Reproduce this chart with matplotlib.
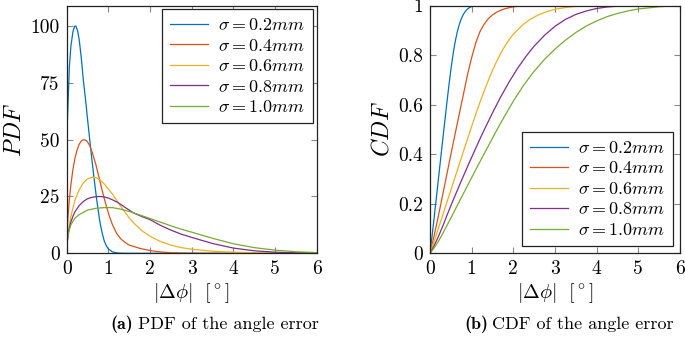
import matplotlib
matplotlib.use("Agg")
import matplotlib.pyplot as plt

plt.rcParams['font.family'] = ['cmr10']
plt.rcParams['mathtext.fontset'] = 'cm'
plt.rcParams['axes.formatter.use_mathtext'] = True

sigma_labels = [r'$\sigma = 0.2mm$', r'$\sigma = 0.4mm$', r'$\sigma = 0.6mm$',
                r'$\sigma = 0.8mm$', r'$\sigma = 1.0mm$']
colors = ['#0072BD', '#D95319', '#EDB120', '#7E2F8E', '#77AC30']

# ---------------- PDF data ----------------
pdf_x_02 = [0, 0.005, 0.016, 0.032, 0.064, 0.1, 0.15, 0.19, 0.22, 0.26, 0.3, 0.35, 0.4, 0.45,
            0.5, 0.55, 0.6, 0.65, 0.7, 0.75, 0.8, 0.85, 0.9, 0.95, 1.0, 1.1, 1.2, 1.3, 1.45, 6.0]
pdf_y_02 = [0, 40, 58, 66, 82, 91, 97.5, 99.8, 100, 98, 94, 86, 76, 68,
            59, 50.5, 42, 34, 26.5, 19.5, 13.5, 9, 5.5, 3.3, 1.9, 0.6, 0.2, 0.05, 0, 0]

pdf_x_04 = [0, 0.005, 0.015, 0.03, 0.06, 0.1, 0.15, 0.2, 0.25, 0.3, 0.36, 0.42, 0.48, 0.55,
            0.62, 0.7, 0.78, 0.86, 0.94, 1.02, 1.1, 1.2, 1.3, 1.4, 1.5, 1.75, 2.0, 2.25, 2.5,
            2.8, 3.2, 6.0]
pdf_y_04 = [0, 6, 11, 16, 23, 30, 37, 42, 45.5, 48, 49.6, 50, 49.5, 47.5,
            44, 39, 33, 27, 21.5, 16.5, 12.5, 8.7, 6.3, 4.8, 3.6, 2.2, 1.2, 0.6, 0.25,
            0.08, 0, 0]

pdf_x_06 = [0, 0.01, 0.03, 0.06, 0.1, 0.15, 0.2, 0.3, 0.4, 0.5, 0.6, 0.7, 0.8, 0.9, 1.0,
            1.1, 1.2, 1.3, 1.4, 1.5, 1.6, 1.8, 2.0, 2.25, 2.5, 2.75, 3.0, 3.5, 4.0, 4.5,
            5.0, 6.0]
pdf_y_06 = [0, 5, 8.5, 12, 16, 20, 23.5, 28, 31, 32.7, 33.4, 33.3, 32.3, 30.5, 28.3,
            26, 23.3, 20.6, 18, 15.6, 13.5, 10, 7.5, 5.2, 3.6, 2.5, 1.8, 0.9, 0.5, 0.25,
            0.12, 0]

pdf_x_08 = [0, 0.01, 0.03, 0.06, 0.1, 0.15, 0.2, 0.3, 0.4, 0.5, 0.6, 0.7, 0.8, 0.9, 1.0,
            1.1, 1.2, 1.3, 1.4, 1.5, 1.6, 1.8, 2.0, 2.25, 2.5, 2.75, 3.0, 3.5, 4.0, 4.5,
            5.0, 5.5, 6.0]
pdf_y_08 = [0, 4.5, 7.5, 11, 13.7, 16.3, 18.3, 21, 22.8, 24, 24.6, 24.9, 25, 24.8, 24.3,
            23.5, 22.6, 21.5, 20.2, 19, 17.8, 16.2, 14.8, 12.3, 10.2, 8.4, 7.0, 4.3, 2.3, 1.1,
            0.5, 0.2, 0.1]

pdf_x_10 = [0, 0.01, 0.02, 0.05, 0.1, 0.2, 0.3, 0.5, 0.7, 0.9, 1.1, 1.3, 1.5, 1.75, 2.0,
            2.25, 2.5, 2.75, 3.0, 3.5, 4.0, 4.5, 5.0, 5.5, 6.0]
pdf_y_10 = [0, 4, 6, 9.5, 12.5, 15.5, 17, 19, 19.8, 20.1, 20.1, 19.4, 18.4, 16.9, 15.3,
            13.7, 12.1, 10.6, 9.3, 6.6, 4.2, 2.5, 1.4, 0.7, 0.3]

# ---------------- CDF data ----------------
cdf_x_02 = [0, 0.05, 0.1, 0.15, 0.2, 0.25, 0.3, 0.35, 0.4, 0.45, 0.5, 0.55, 0.6, 0.65,
            0.7, 0.75, 0.8, 0.85, 0.9, 0.95, 1.0, 1.1, 1.2, 6.0]
cdf_y_02 = [0, 0.07, 0.145, 0.22, 0.297, 0.373, 0.45, 0.525, 0.6, 0.672, 0.74, 0.8, 0.85, 0.89,
            0.922, 0.946, 0.964, 0.977, 0.986, 0.992, 0.996, 0.999, 1.0, 1.0]

cdf_x_04 = [0, 0.1, 0.2, 0.3, 0.4, 0.5, 0.6, 0.7, 0.8, 0.9, 1.0, 1.1, 1.2, 1.3, 1.4,
            1.5, 1.6, 1.7, 1.8, 2.0, 2.2, 2.5, 6.0]
cdf_y_04 = [0, 0.072, 0.15, 0.232, 0.315, 0.398, 0.48, 0.56, 0.64, 0.72, 0.79, 0.85, 0.895,
            0.925, 0.947, 0.962, 0.973, 0.981, 0.987, 0.995, 0.998, 1.0, 1.0]

cdf_x_06 = [0, 0.1, 0.2, 0.3, 0.4, 0.5, 0.6, 0.7, 0.8, 0.9, 1.0, 1.1, 1.2, 1.3, 1.4,
            1.5, 1.6, 1.7, 1.8, 1.9, 2.0, 2.2, 2.4, 2.6, 2.8, 3.0, 3.3, 3.6, 4.0, 6.0]
cdf_y_06 = [0, 0.048, 0.1, 0.151, 0.203, 0.255, 0.307, 0.358, 0.41, 0.461, 0.512, 0.562, 0.61,
            0.655, 0.698, 0.738, 0.775, 0.808, 0.837, 0.862, 0.884, 0.918, 0.944, 0.962,
            0.975, 0.985, 0.993, 0.998, 1.0, 1.0]

cdf_x_08 = [0, 0.1, 0.2, 0.3, 0.4, 0.51, 0.7, 0.9, 1.06, 1.2, 1.35, 1.5, 1.7, 1.9, 2.1,
            2.3, 2.5, 2.75, 3.0, 3.25, 3.5, 3.75, 4.0, 4.25, 4.5, 5.0, 5.5, 6.0]
cdf_y_08 = [0, 0.031, 0.067, 0.107, 0.15, 0.196, 0.272, 0.35, 0.41, 0.462, 0.515, 0.567, 0.632,
            0.692, 0.746, 0.794, 0.836, 0.88, 0.916, 0.944, 0.964, 0.978, 0.988, 0.994,
            0.997, 0.9995, 1.0, 1.0]

cdf_x_10 = [0, 0.1, 0.2, 0.3, 0.45, 0.67, 0.9, 1.1, 1.31, 1.5, 1.7, 2.0, 2.25, 2.5, 2.75,
            3.0, 3.25, 3.5, 3.75, 4.0, 4.25, 4.5, 4.75, 5.0, 5.5, 6.0]
cdf_y_10 = [0, 0.022, 0.048, 0.078, 0.126, 0.198, 0.273, 0.338, 0.405, 0.465, 0.527, 0.614,
            0.679, 0.735, 0.783, 0.824, 0.86, 0.891, 0.917, 0.938, 0.955, 0.968, 0.978,
            0.986, 0.995, 1.0]

pdf_series = [(pdf_x_02, pdf_y_02), (pdf_x_04, pdf_y_04), (pdf_x_06, pdf_y_06),
              (pdf_x_08, pdf_y_08), (pdf_x_10, pdf_y_10)]
cdf_series = [(cdf_x_02, cdf_y_02), (cdf_x_04, cdf_y_04), (cdf_x_06, cdf_y_06),
              (cdf_x_08, cdf_y_08), (cdf_x_10, cdf_y_10)]

x_ticks = [0, 1, 2, 3, 4, 5, 6]
pdf_yticks = [0, 25, 50, 75, 100]
cdf_yticks = [0, 0.2, 0.4, 0.6, 0.8, 1]
cdf_yticklabels = ['0', '0.2', '0.4', '0.6', '0.8', '1']

W, H = 685, 349
top_px, bot_px = 5.5, 253.3
fig = plt.figure(figsize=(W / 100, H / 100), dpi=100)
ax1 = fig.add_axes([66.7 / W, (H - bot_px) / H, 250 / W, (bot_px - top_px) / H])
ax2 = fig.add_axes([430 / W, (H - bot_px) / H, 250 / W, (bot_px - top_px) / H])

def style(ax):
    for s in ax.spines.values():
        s.set_color('#222222')
        s.set_linewidth(0.9)
    ax.tick_params(direction='in', length=4.5, width=0.8, color='#888888',
                   top=True, right=True, labelsize=14, pad=5)
    ax.set_xlim(0, 6)
    ax.set_xticks(x_ticks)
    ax.set_xticklabels([str(t) for t in x_ticks])
    ax.set_xlabel(r'$|\Delta\phi|\ \ [^\circ]$', fontsize=14.5, labelpad=2)

for (xs, ys), c, lab in zip(pdf_series, colors, sigma_labels):
    ax1.plot(xs, ys, color=c, lw=0.9, label=lab)
style(ax1)
ax1.set_ylim(0, 109)
ax1.set_yticks(pdf_yticks)
ax1.set_yticklabels([str(t) for t in pdf_yticks])
ax1.set_ylabel(r'$PDF$', fontsize=17, labelpad=3)
leg1 = ax1.legend(loc='upper right', fontsize=13, frameon=True, fancybox=False,
                  edgecolor='#222222', framealpha=1, handlelength=2.1, handletextpad=0.55,
                  borderpad=0.45, labelspacing=0.25, borderaxespad=0.2)
leg1.get_frame().set_linewidth(0.9)

for (xs, ys), c, lab in zip(cdf_series, colors, sigma_labels):
    ax2.plot(xs, ys, color=c, lw=0.9, label=lab)
style(ax2)
ax2.set_ylim(0, 1)
ax2.set_yticks(cdf_yticks)
ax2.set_yticklabels(cdf_yticklabels)
ax2.set_ylabel(r'$CDF$', fontsize=17, labelpad=3)
leg2 = ax2.legend(loc='lower right', fontsize=13, frameon=True, fancybox=False,
                  edgecolor='#222222', framealpha=1, handlelength=2.1, handletextpad=0.55,
                  borderpad=0.45, labelspacing=0.25, borderaxespad=0.4)
leg2.get_frame().set_linewidth(0.9)

cap_y = 1 - 324 / H
fig.text(133 / W, cap_y, '(a)', ha='right', va='center', fontsize=13, family='cmb10')
fig.text(137.5 / W, cap_y, 'PDF of the angle error', ha='left', va='center', fontsize=13)
fig.text(488 / W, cap_y, '(b)', ha='right', va='center', fontsize=13, family='cmb10')
fig.text(492.5 / W, cap_y, 'CDF of the angle error', ha='left', va='center', fontsize=13)

fig.savefig('out.png', dpi=100)
